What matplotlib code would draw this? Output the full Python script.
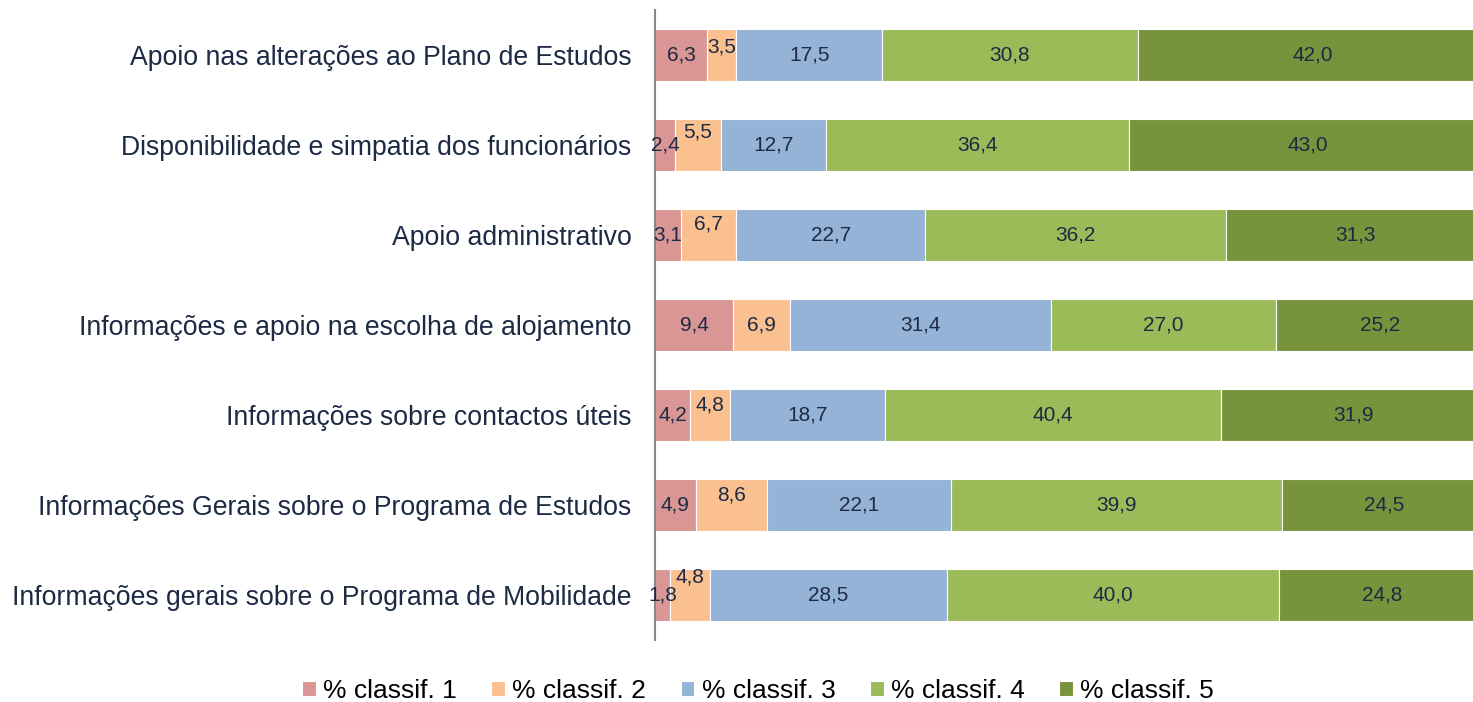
import numpy as np
import matplotlib
matplotlib.use("Agg")
import matplotlib.pyplot as plt

plt.rcParams['font.family'] = ['Liberation Sans', 'DejaVu Sans']

categories = [
    "Apoio nas alterações ao Plano de Estudos",
    "Disponibilidade e simpatia dos funcionários",
    "Apoio administrativo",
    "Informações e apoio na escolha de alojamento",
    "Informações sobre contactos úteis",
    "Informações Gerais sobre o Programa de Estudos",
    "Informações gerais sobre o Programa de Mobilidade",
]
series_names = ["% classif. 1", "% classif. 2", "% classif. 3", "% classif. 4", "% classif. 5"]
classif1 = [6.3, 2.4, 3.1, 9.4, 4.2, 4.9, 1.8]
classif2 = [3.5, 5.5, 6.7, 6.9, 4.8, 8.6, 4.8]
classif3 = [17.5, 12.7, 22.7, 31.4, 18.7, 22.1, 28.5]
classif4 = [30.8, 36.4, 36.2, 27.0, 40.4, 39.9, 40.0]
classif5 = [42.0, 43.0, 31.3, 25.2, 31.9, 24.5, 24.8]

colors = ["#D99694", "#FAC090", "#95B3D7", "#9BBB59", "#77933C"]
text_color = "#1d2a44"
# upward shift (points) of the classif. 2 labels, as placed in the original
lift2 = [6, 9, 8, 0, 7, 7, 13]

fig = plt.figure(figsize=(14.73, 7.02), dpi=100)
ax = fig.add_axes([655 / 1473, 1 - 640 / 702, 831 / 1473, 630 / 702])

y = np.arange(len(categories))
left = np.zeros(len(categories))
for i, vals in enumerate([classif1, classif2, classif3, classif4, classif5]):
    vals = np.array(vals)
    ax.barh(y, vals, left=left, height=0.57, color=colors[i], label=series_names[i],
            edgecolor="white", linewidth=0.8)
    for j, v in enumerate(vals):
        dy = lift2[j] if i == 1 else 0
        ax.annotate(("%.1f" % v).replace(".", ","), (left[j] + v / 2, y[j]),
                    xytext=(0, dy), textcoords="offset points",
                    ha="center", va="center", fontsize=15, color=text_color)
    left += vals

ax.set_xlim(0, 100)
ax.set_ylim(len(categories) - 0.5, -0.5)
ax.set_yticks(y)
ax.set_yticklabels(categories, fontsize=19.2, color=text_color)
ax.tick_params(axis="y", length=0, pad=17)
ax.set_xticks([])
for s in ["top", "right", "bottom"]:
    ax.spines[s].set_visible(False)
ax.spines["left"].set_color("#888888")
ax.spines["left"].set_linewidth(1.5)

fig.legend(loc="center", bbox_to_anchor=(758 / 1473, 1 - 691 / 702), ncol=5, frameon=False,
           fontsize=19, handlelength=0.52, handleheight=0.52, handletextpad=0.28,
           columnspacing=1.3, labelcolor="#000000")

fig.savefig("out.png", dpi=100)
